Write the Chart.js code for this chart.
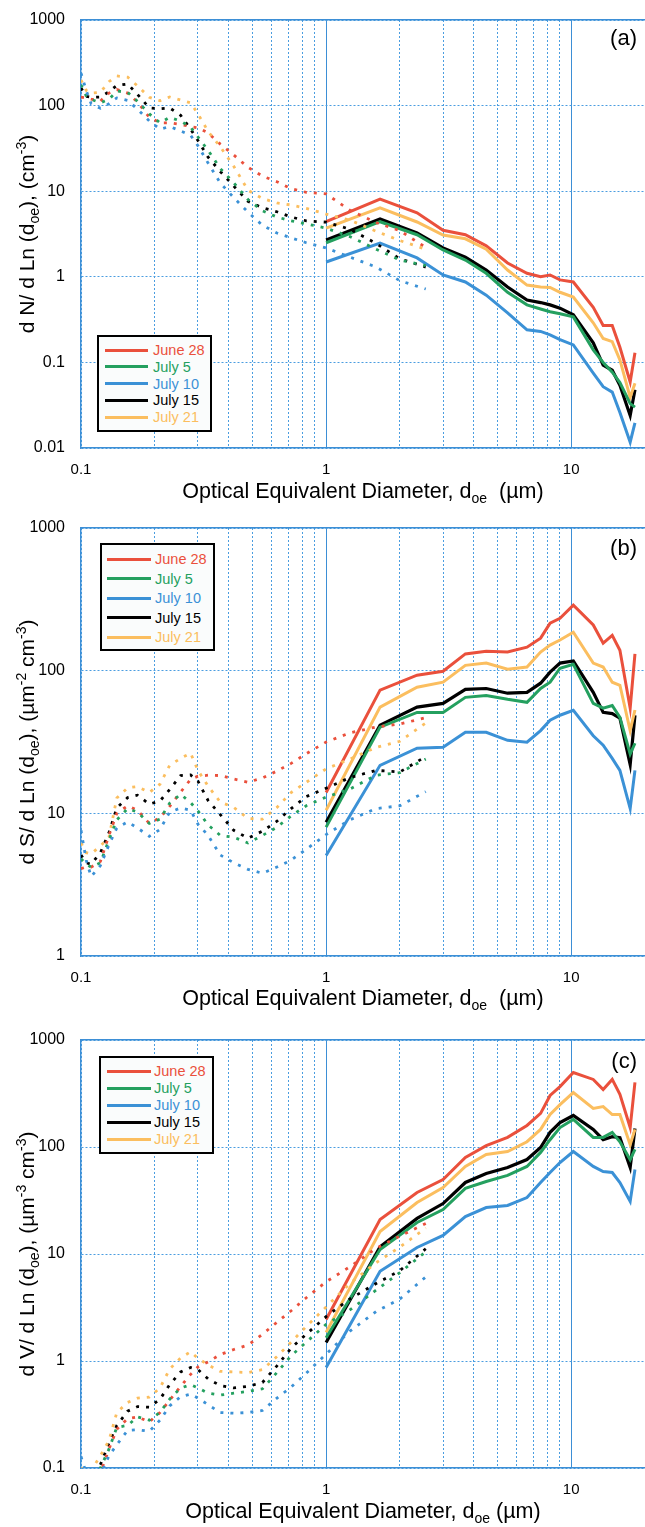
<!DOCTYPE html>
<html>
<head>
<meta charset="utf-8">
<title>Size distributions</title>
<script src="https://cdn.jsdelivr.net/npm/chart.js@4.4.0/dist/chart.umd.min.js"></script>
<style>
  html, body { margin: 0; padding: 0; background: #fff; }
  #page { position: relative; width: 645px; height: 1527px; overflow: hidden;
          font-family: "Liberation Sans", Arial, Helvetica, sans-serif; color: #000; }
  .panel { position: absolute; left: 0; width: 645px; height: 480px; }
  .xtitle { position: absolute; left: 81px; width: 564px; text-align: center;
            font-size: 21.5px; line-height: 24px; white-space: nowrap; }
  .ytitle { position: absolute; width: 428px; height: 24px; text-align: center;
            font-size: 21px; line-height: 24px; white-space: nowrap; transform: rotate(-90deg); }
  .tag { position: absolute; right: 8px; font-size: 22px; line-height: 24px; }
  .box { position: absolute; border: 2.5px solid #000; background: #fafcfc; box-sizing: border-box; }
  .sw { position: absolute; height: 3px; }
  .lt { position: absolute; font-size: 14.5px; line-height: 18px; white-space: nowrap; }
  sub, sup { font-size: 14px; line-height: 0; }
</style>
</head>
<body>
<div id="page">
  <div class="panel" style="top:0px"><canvas id="chartN"></canvas></div>
  <div class="panel" style="top:508px"><canvas id="chartS"></canvas></div>
  <div class="panel" style="top:1020px"><canvas id="chartV"></canvas></div>

  <div class="ytitle" style="left:-187px; top:222px">d N/ d Ln (d<sub>oe</sub>), (cm<sup>-3</sup>)</div>
  <div class="ytitle" style="left:-187px; top:730px">d S/ d Ln (d<sub>oe</sub>), (&micro;m<sup>-2</sup> cm<sup>-3</sup>)</div>
  <div class="ytitle" style="left:-187px; top:1242px">d V/ d Ln (d<sub>oe</sub>), (&micro;m<sup>-3</sup> cm<sup>-3</sup>)</div>

  <div class="xtitle" style="top:479px">Optical Equivalent Diameter, d<sub>oe</sub>&nbsp;&nbsp;(&micro;m)</div>
  <div class="xtitle" style="top:986px">Optical Equivalent Diameter, d<sub>oe</sub>&nbsp;&nbsp;(&micro;m)</div>
  <div class="xtitle" style="top:1499px">Optical Equivalent Diameter, d<sub>oe</sub>&nbsp;(&micro;m)</div>

  <div class="tag" style="top:26px">(a)</div>
  <div class="tag" style="top:536px">(b)</div>
  <div class="tag" style="top:1049px">(c)</div>
</div>

<script>
// Series names and colours
const DATES = ['June 28', 'July 5', 'July 10', 'July 15', 'July 21'];
const COLORS = ['#ea503c', '#24a05f', '#3b91d6', '#000000', '#fbbe5f'];
const DRAW_ORDER = [2, 1, 4, 0, 3];

const FONT = '"Liberation Sans", Arial, Helvetica, sans-serif';
const GRID = '#4a9de0';
const AXIS = '#3d8fd6';

// x grid lines and labels (diameter, um)
const X_GRID = [0.1, 0.2, 0.3, 0.4, 0.5, 0.6, 0.7, 0.8, 0.9, 1, 2, 3, 4, 5, 6, 7, 8, 9, 10, 20];
const X_LABELS = [0.1, 1, 10];
const X_SOLID = [1, 10];

// y ticks per panel
const N_TICKS = [0.01, 0.1, 1, 10, 100, 1000];
const S_TICKS = [1, 10, 100, 1000];
const V_TICKS = [0.1, 1, 10, 100, 1000];

// diameters of the dotted (small size) and solid (large size) curves
const DOT_D = [0.1, 0.105, 0.11, 0.12, 0.13, 0.14, 0.155, 0.17, 0.19, 0.21, 0.23, 0.255, 0.28, 0.3,
               0.33, 0.37, 0.42, 0.48, 0.55, 0.63, 0.72, 0.83, 1.0, 1.25, 1.6, 2.0, 2.55];
const SOLID_D = [1.0, 1.66, 2.35, 3.0, 3.7, 4.5, 5.5, 6.6, 7.5, 8.2, 9.0, 10.2, 12.3, 13.5, 14.7, 15.8, 17.4, 18.2];

// (a) dN/dLn, rows in DATES order
const N_DOTTED = [
  [126, 123, 119, 113, 140, 154, 140, 110, 73, 63, 63, 60, 57, 55, 48, 35.5, 26.5, 19, 15, 12.9, 10.7, 9.7, 9.3, 6.0, 4.3, 3.45, 2.2],
  [175, 130, 118, 108, 118, 148, 143, 112, 80, 63, 73, 66, 56, 43, 30, 18.4, 12.5, 8, 5.9, 5.0, 4.5, 4.15, 3.7, 2.95, 2.1, 1.57, 1.35],
  [240, 150, 105, 93, 105, 123, 115, 91, 66, 53, 57, 50.5, 45, 34, 21.3, 12.5, 8.4, 5.7, 4.0, 3.25, 2.85, 2.5, 2.17, 1.7, 1.3, 0.9, 0.72],
  [161, 128, 125, 126, 145, 172, 179, 135, 94, 92, 94, 77, 53, 39, 25, 17, 11.5, 7.6, 6.4, 5.75, 5.0, 4.5, 4.35, 3.6, 2.45, 1.62, 1.3],
  [199, 150, 140, 143, 190, 222, 215, 170, 125, 114, 126, 116, 108, 80, 50, 33, 19.5, 10.3, 8.2, 7.3, 6.9, 6.3, 5.4, 4.6, 3.4, 2.65, 2.1]
];
const N_SOLID = [
  [4.4, 8.1, 5.6, 3.5, 3.1, 2.3, 1.45, 1.1, 1.0, 1.05, 0.92, 0.87, 0.44, 0.27, 0.27, 0.15, 0.059, 0.13],
  [2.5, 4.4, 3.1, 2.06, 1.57, 1.1, 0.66, 0.47, 0.42, 0.39, 0.37, 0.34, 0.14, 0.1, 0.077, 0.058, 0.033, 0.03],
  [1.49, 2.48, 1.66, 1.05, 0.87, 0.61, 0.38, 0.24, 0.23, 0.21, 0.185, 0.16, 0.075, 0.052, 0.045, 0.026, 0.0117, 0.0196],
  [2.69, 4.73, 3.25, 2.17, 1.7, 1.2, 0.76, 0.535, 0.5, 0.47, 0.43, 0.36, 0.169, 0.093, 0.081, 0.054, 0.024, 0.048],
  [3.7, 6.4, 4.37, 3.08, 2.78, 2.1, 1.2, 0.8, 0.76, 0.75, 0.66, 0.58, 0.29, 0.19, 0.175, 0.107, 0.039, 0.057]
];

// (b) dS/dLn
const S_DOTTED = [
  [4.1, 4.2, 4.2, 4.6, 7.0, 10.0, 11.3, 10.5, 8.5, 9.3, 11.2, 14.1, 17.3, 18.2, 18.5, 18.4, 17.4, 16.5, 17.7, 19.8, 22.4, 26.2, 31.6, 36.6, 40.3, 42.3, 46.8],
  [4.8, 4.4, 4.2, 4.5, 6.5, 9.0, 10.8, 10.2, 8.5, 9.1, 11.8, 13.6, 11.9, 10.4, 8.3, 7.0, 6.8, 6.2, 7.0, 8.0, 9.6, 11.3, 13, 14.8, 18.5, 19.3, 24],
  [7.6, 4.7, 3.6, 4.3, 6.0, 7.9, 8.7, 7.9, 6.9, 7.7, 10.2, 10.9, 10.5, 8.4, 7.0, 5.1, 4.5, 4.05, 3.8, 4.2, 4.7, 5.6, 7.1, 9.0, 10.8, 11.3, 14.2],
  [5.1, 4.5, 4.4, 5.3, 7.3, 10.9, 12.9, 13.4, 11.6, 12.2, 14.7, 18.4, 18.6, 16.8, 12.3, 9.8, 7.6, 6.7, 7.5, 8.8, 10.8, 13.1, 15, 17.8, 20, 19.5, 25],
  [6.2, 5.3, 5.2, 5.9, 6.8, 12.8, 15.1, 15.4, 14, 16, 21.7, 24.3, 26.4, 20, 15.5, 12, 11, 9.2, 9.1, 11, 14, 16.5, 20.5, 24, 29, 32, 43]
];
const S_SOLID = [
  [14, 73, 93, 99, 131, 137, 135, 146, 169, 215, 233, 288, 209, 156, 177, 139, 54.6, 131],
  [8, 40.2, 51, 51, 65, 67, 63, 60, 75, 83, 104, 111, 59, 54.6, 57, 47, 26, 31],
  [5.07, 21.7, 28.6, 29, 37, 37, 32.5, 31.5, 38, 45, 48.7, 52.8, 35, 30, 24.3, 20, 10.8, 20],
  [8.65, 41.5, 55.5, 59, 74, 75, 69.5, 70.5, 81.7, 97.6, 113, 117, 70.5, 51, 50, 46.4, 22, 48.7],
  [10.5, 55.5, 76.6, 83, 109, 113, 102.5, 106, 135, 151, 164, 186, 113, 106, 83, 79, 38, 53]
];

// (c) dV/dLn
const V_DOTTED = [
  [0.07, 0.07, 0.075, 0.09, 0.15, 0.23, 0.29, 0.3, 0.27, 0.33, 0.43, 0.58, 0.75, 0.88, 0.98, 1.15, 1.28, 1.41, 1.78, 2.3, 2.95, 3.9, 5.5, 7.6, 11.3, 14.7, 19.3],
  [0.06, 0.065, 0.07, 0.1, 0.15, 0.24, 0.25, 0.3, 0.28, 0.33, 0.44, 0.56, 0.6, 0.56, 0.5, 0.48, 0.5, 0.52, 0.55, 0.78, 1.12, 1.5, 2.2, 3.0, 4.6, 6.7, 10.5],
  [0.128, 0.09, 0.07, 0.086, 0.13, 0.165, 0.225, 0.228, 0.22, 0.28, 0.38, 0.465, 0.49, 0.45, 0.39, 0.33, 0.325, 0.33, 0.345, 0.45, 0.57, 0.77, 1.16, 1.9, 2.9, 3.8, 6.1],
  [0.085, 0.075, 0.08, 0.108, 0.17, 0.25, 0.34, 0.375, 0.37, 0.44, 0.6, 0.79, 0.87, 0.83, 0.68, 0.59, 0.56, 0.58, 0.63, 0.9, 1.32, 1.78, 2.6, 3.8, 5.3, 7.0, 11.2],
  [0.1, 0.093, 0.095, 0.13, 0.18, 0.33, 0.41, 0.45, 0.46, 0.56, 0.84, 1.07, 1.22, 1.06, 0.92, 0.8, 0.79, 0.78, 0.83, 1.1, 1.5, 2.1, 3.2, 5.3, 8.3, 11.6, 17.5]
];
const V_SOLID = [
  [2.44, 21, 37.6, 49.7, 79.8, 103, 123, 159, 206, 303, 367, 497, 428, 345, 428, 310, 152, 401],
  [1.65, 11, 19.7, 26, 41, 47.6, 54.2, 65.8, 89, 117, 152, 181, 123, 123, 137, 112, 76, 95],
  [0.87, 6.9, 11.5, 14.9, 22.4, 27.2, 28.4, 33.7, 46.6, 57.8, 71.6, 90.8, 65.8, 59, 57.8, 46.6, 31, 61.7],
  [1.49, 11.7, 21.5, 29.6, 46.6, 56.5, 64.3, 76.4, 98.9, 137, 169, 197, 146, 117, 125, 122, 64.3, 149],
  [1.85, 16.2, 30.3, 41.8, 65.7, 85, 90.8, 112, 146, 201, 249, 323, 229, 239, 201, 201, 105, 146]
];

// legend boxes: outer box, swatch x range, text x, centre of first row, row pitch
const LEGENDS = [
  { left: 97, top: 335, w: 115, h: 97, x1: 105, x2: 148, tx: 153, first: 350, pitch: 16.8 },
  { left: 100, top: 543, w: 115, h: 108, x1: 107, x2: 151, tx: 155, first: 559, pitch: 19.5 },
  { left: 99, top: 1056, w: 115, h: 98, x1: 107, x2: 151, tx: 154, first: 1071, pitch: 17 }
];

function series(xs, ys) {
  return xs.map((x, k) => ({ x: x, y: ys[k] }));
}

function makeChart(id, yTicks, dotted, solid) {
  const datasets = [];
  DRAW_ORDER.forEach(i => {
    datasets.push({
      label: DATES[i] + ' small',
      data: series(DOT_D, dotted[i]),
      xAxisID: 'x', yAxisID: 'y',
      borderColor: COLORS[i], borderWidth: 2.8, borderDash: [3, 7], borderCapStyle: 'butt',
      pointRadius: 0, tension: 0, fill: false
    });
  });
  DRAW_ORDER.forEach(i => {
    datasets.push({
      label: DATES[i],
      data: series(SOLID_D, solid[i]),
      xAxisID: 'x', yAxisID: 'y',
      borderColor: COLORS[i], borderWidth: i === 3 ? 3.2 : 3,
      pointRadius: 0, tension: 0, fill: false
    });
  });

  return new Chart(document.getElementById(id), {
    type: 'line',
    data: { datasets: datasets },
    options: {
      responsive: true,
      maintainAspectRatio: false,
      animation: false,
      layout: { padding: { top: 20, right: 0, bottom: 0, left: 0 } },
      plugins: { legend: { display: false }, tooltip: { enabled: false } },
      scales: {
        x: {
          type: 'logarithmic', position: 'bottom', min: 0.1, max: 20,
          afterBuildTicks: s => { s.ticks = X_GRID.map(v => ({ value: v })); },
          // fixed axis height, no extra room for the edge labels
          afterFit: s => { s.height = 32; s.paddingLeft = 0; s.paddingRight = 0; },
          ticks: {
            autoSkip: false, maxRotation: 0, padding: 13, color: '#000',
            font: { family: FONT, size: 15 },
            callback: v => X_LABELS.includes(v) ? String(v) : ''
          },
          grid: { color: GRID, lineWidth: 1, drawTicks: false },
          border: { display: true, color: AXIS, width: 1.5, dash: [2, 2] }
        },
        xs: {
          type: 'logarithmic', position: 'top', min: 0.1, max: 20,
          afterBuildTicks: s => { s.ticks = X_SOLID.map(v => ({ value: v })); },
          afterFit: s => { s.height = 0; s.paddingLeft = 0; s.paddingRight = 0; },
          ticks: { display: false },
          grid: { color: AXIS, lineWidth: 1, drawTicks: false },
          border: { display: true, color: AXIS, width: 1.5 }
        },
        y: {
          type: 'logarithmic', position: 'left',
          min: yTicks[0], max: yTicks[yTicks.length - 1],
          afterBuildTicks: s => { s.ticks = yTicks.map(v => ({ value: v })); },
          afterFit: s => { s.width = 81; s.paddingTop = 0; s.paddingBottom = 0; },
          ticks: {
            padding: 16, color: '#000', font: { family: FONT, size: 16 },
            callback: v => String(v)
          },
          grid: { color: GRID, lineWidth: 1, drawTicks: false },
          border: { display: true, color: AXIS, width: 1.5, dash: [2, 2] }
        }
      }
    }
  });
}

function buildLegend(box) {
  const page = document.getElementById('page');
  const frame = document.createElement('div');
  frame.className = 'box';
  frame.style.left = box.left + 'px';
  frame.style.top = box.top + 'px';
  frame.style.width = box.w + 'px';
  frame.style.height = box.h + 'px';
  page.appendChild(frame);

  DATES.forEach((name, i) => {
    const cy = box.first + i * box.pitch;
    const sw = document.createElement('div');
    sw.className = 'sw';
    sw.style.left = box.x1 + 'px';
    sw.style.width = (box.x2 - box.x1) + 'px';
    sw.style.top = (cy - 1.5) + 'px';
    sw.style.background = COLORS[i];
    page.appendChild(sw);

    const txt = document.createElement('div');
    txt.className = 'lt';
    txt.style.left = box.tx + 'px';
    txt.style.top = (cy - 9) + 'px';
    txt.style.color = COLORS[i];
    txt.textContent = name;
    page.appendChild(txt);
  });
}

makeChart('chartN', N_TICKS, N_DOTTED, N_SOLID);
makeChart('chartS', S_TICKS, S_DOTTED, S_SOLID);
makeChart('chartV', V_TICKS, V_DOTTED, V_SOLID);
LEGENDS.forEach(buildLegend);
</script>
</body>
</html>
